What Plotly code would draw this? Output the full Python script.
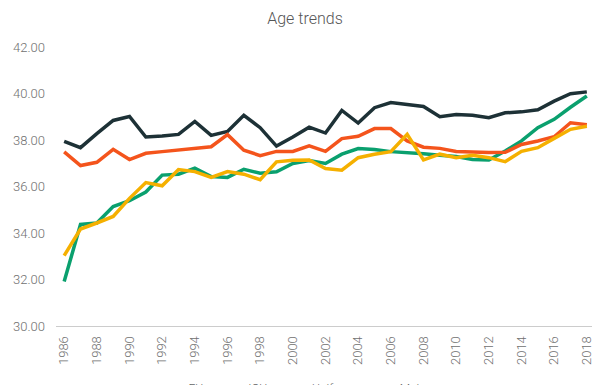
import plotly.graph_objects as go

years = [str(y) for y in range(1986, 2019)]
tick_labels = [str(y) for y in range(1986, 2019, 2)]

dark = [37.94, 37.67, 38.27, 38.84, 39.01, 38.13, 38.17, 38.24, 38.80, 38.20,
        38.37, 39.06, 38.53, 37.74, 38.13, 38.55, 38.30, 39.27, 38.73, 39.39,
        39.61, 39.53, 39.44, 39.00, 39.10, 39.06, 38.96, 39.17, 39.21, 39.30,
        39.67, 39.99, 40.07]
orange = [37.49, 36.90, 37.04, 37.60, 37.16, 37.43, 37.50, 37.57, 37.66, 37.71,
          38.23, 37.56, 37.33, 37.51, 37.51, 37.75, 37.51, 38.06, 38.16, 38.49,
          38.49, 37.96, 37.69, 37.64, 37.51, 37.47, 37.46, 37.47, 37.81, 37.96,
          38.14, 38.74, 38.66]
green = [31.91, 34.37, 34.43, 35.14, 35.39, 35.76, 36.49, 36.53, 36.79, 36.43,
         36.39, 36.74, 36.57, 36.63, 36.99, 37.12, 36.99, 37.39, 37.63, 37.59,
         37.50, 37.46, 37.41, 37.34, 37.29, 37.16, 37.14, 37.53, 37.96, 38.53,
         38.89, 39.41, 39.89]
yellow = [33.03, 34.17, 34.43, 34.71, 35.49, 36.17, 36.03, 36.73, 36.64, 36.39,
          36.64, 36.53, 36.29, 37.06, 37.13, 37.14, 36.77, 36.70, 37.24, 37.39,
          37.50, 38.24, 37.14, 37.39, 37.24, 37.34, 37.24, 37.07, 37.51, 37.67,
          38.07, 38.46, 38.59]

names = ["EU", "ICU", "Uniform", "Main"]
values = [green, dark, orange, yellow]
colors = ["#0aa06e", "#1d3136", "#f4541c", "#f5b000"]

fig = go.Figure()
for vals, col, nm in zip(values, colors, names):
    fig.add_trace(go.Scatter(x=years, y=vals, mode="lines", name=nm,
                             line=dict(color=col, width=3.5)))

font_fam = "Roboto, sans-serif"
# page body has an 8px margin; margins below compensate for it
fig.update_layout(
    width=600, height=385,
    margin=dict(l=48, r=13, t=39, b=67, autoexpand=False),
    paper_bgcolor="white", plot_bgcolor="white",
    font=dict(family=font_fam, color="#707070", size=13, weight=300),
    title=dict(text="Age trends", x=0.495, xref="container", xanchor="center",
               y=(385 - 10) / 385, yref="container", yanchor="middle",
               font=dict(size=16, color="#555555", family=font_fam, weight=300)),
    showlegend=True,
    legend=dict(orientation="h", x=0.47, xanchor="center", xref="container",
                y=0.051, yref="container", yanchor="top",
                font=dict(size=12, color="#666666")),
    xaxis=dict(type="category", range=[-0.5, 32.5], tickmode="array",
               tickvals=tick_labels, ticktext=tick_labels, tickangle=-90,
               showgrid=False, showline=True, linecolor="#cccccc", linewidth=1,
               ticks="", ticklabelstandoff=4, zeroline=False),
    yaxis=dict(range=[30, 42], dtick=2, tickformat=".2f", showgrid=False,
               showline=False, zeroline=False, ticks="", ticklabelstandoff=10),
)

fig.write_html("out.html")
